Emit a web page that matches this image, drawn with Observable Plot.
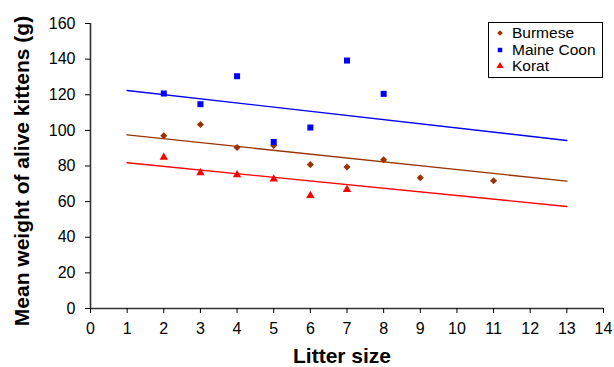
<!DOCTYPE html>
<html>
<head>
<meta charset="utf-8">
<script src="https://cdn.jsdelivr.net/npm/d3@7"></script>
<script src="https://cdn.jsdelivr.net/npm/@observablehq/plot@0.6"></script>
<style>
  html, body { margin: 0; padding: 0; background: #fff; }
  #wrap { position: relative; width: 614px; height: 367px; font-family: Arial, "Liberation Sans", sans-serif; }
  #legend { position: absolute; left: 488px; top: 22px; width: 113px; height: 52px; border: 1.5px solid #000; background: #fff; font-size: 15.5px; line-height: 16.5px; padding-top: 2px; box-sizing: content-box; }
  #legend .row { display: flex; align-items: center; height: 16.5px; }
  #legend svg { width: 12px; height: 12px; margin-left: 5px; margin-right: 6px; }
</style>
</head>
<body>
<div id="wrap"><div id="legend"></div></div>
<script>
const breeds = ["Burmese", "Maine Coon", "Korat"];
const breedColors = ["#993300", "#0000ff", "#ff0000"];
const breedSymbols = ["diamond2", "square", "triangle"];

const burmeseX = [2, 3, 4, 5, 6, 7, 8, 9, 11];
const burmeseY = [97, 103.3, 90.4, 91.5, 80.8, 79.4, 83.5, 73.4, 71.7];
const maineCoonX = [2, 3, 4, 5, 6, 7, 8];
const maineCoonY = [120.7, 114.7, 130.4, 93.5, 101.6, 139.2, 120.5];
const koratX = [2, 3, 4, 5, 6, 7];
const koratY = [84.9, 76.2, 75.1, 72.6, 63.4, 66.8];

const trendX = [1, 13];
const burmeseTrend = [97.5, 71.5];
const maineCoonTrend = [122.4, 94.3];
const koratTrend = [81.8, 57.3];

const xTicks = d3.range(0, 15, 1);
const yTicks = d3.range(0, 161, 20);
const xLabel = "Litter size";
const yLabel = "Mean weight of alive kittens (g)";

const seriesX = [burmeseX, maineCoonX, koratX];
const seriesY = [burmeseY, maineCoonY, koratY];
const trends = [burmeseTrend, maineCoonTrend, koratTrend];

const points = [];
breeds.forEach((b, i) => seriesX[i].forEach((x, j) => points.push({breed: b, x, y: seriesY[i][j]})));
const lines = [];
breeds.forEach((b, i) => trendX.forEach((x, j) => lines.push({breed: b, x, y: trends[i][j]})));

const colorOf = b => breedColors[breeds.indexOf(b)];

const marks = [
  Plot.ruleY([0], {stroke: "#333", strokeWidth: 1.6}),
  Plot.ruleX([0], {stroke: "#333", strokeWidth: 1.6}),
  Plot.axisX({ticks: xTicks, tickSize: 5, tickPadding: 9, fontSize: 16, label: null, tickFormat: d => d}),
  Plot.axisY({ticks: yTicks, tickSize: 5, tickPadding: 10, fontSize: 16, label: null, tickFormat: d => d}),
  Plot.line(lines, {x: "x", y: "y", z: "breed", stroke: d => colorOf(d.breed), strokeWidth: 1.4})
];
breeds.forEach((b, i) => {
  marks.push(Plot.dot(points.filter(p => p.breed === b), {
    x: "x", y: "y", symbol: breedSymbols[i], fill: breedColors[i], stroke: "none",
    r: breedSymbols[i] === "diamond2" ? 3.2 : (breedSymbols[i] === "square" ? 3.4 : 3.1)
  }));
});
marks.push(Plot.text([xLabel], {frameAnchor: "bottom", dy: 48, dx: -5, text: d => d, textAnchor: "middle", lineAnchor: "middle", fontSize: 21, fontWeight: "bold", fill: "#000"}));
marks.push(Plot.text([yLabel], {frameAnchor: "left", dx: -68, dy: 5, rotate: -90, text: d => d, textAnchor: "middle", lineAnchor: "middle", fontSize: 21, fontWeight: "bold", fill: "#000"}));

const chart = Plot.plot({
  width: 614,
  height: 367,
  marginLeft: 90,
  marginRight: 11,
  marginTop: 23,
  marginBottom: 59,
  style: {fontFamily: "Arial, 'Liberation Sans', sans-serif", color: "#000", background: "#fff", overflow: "visible"},
  x: {domain: [0, 14]},
  y: {domain: [0, 160]},
  marks
});
document.getElementById("wrap").insertBefore(chart, document.getElementById("legend"));

const legend = document.getElementById("legend");
breeds.forEach((b, i) => {
  const row = document.createElement("div");
  row.className = "row";
  const sym = d3.create("svg").attr("viewBox", "-6 -6 12 12");
  const typ = {diamond2: d3.symbolDiamond2, square: d3.symbolSquare, triangle: d3.symbolTriangle}[breedSymbols[i]];
  sym.append("path").attr("d", d3.symbol(typ, breedSymbols[i] === "triangle" ? 22 : 20)()).attr("fill", breedColors[i]);
  row.appendChild(sym.node());
  const t = document.createElement("span");
  t.textContent = b;
  row.appendChild(t);
  legend.appendChild(row);
});
</script>
</body>
</html>
